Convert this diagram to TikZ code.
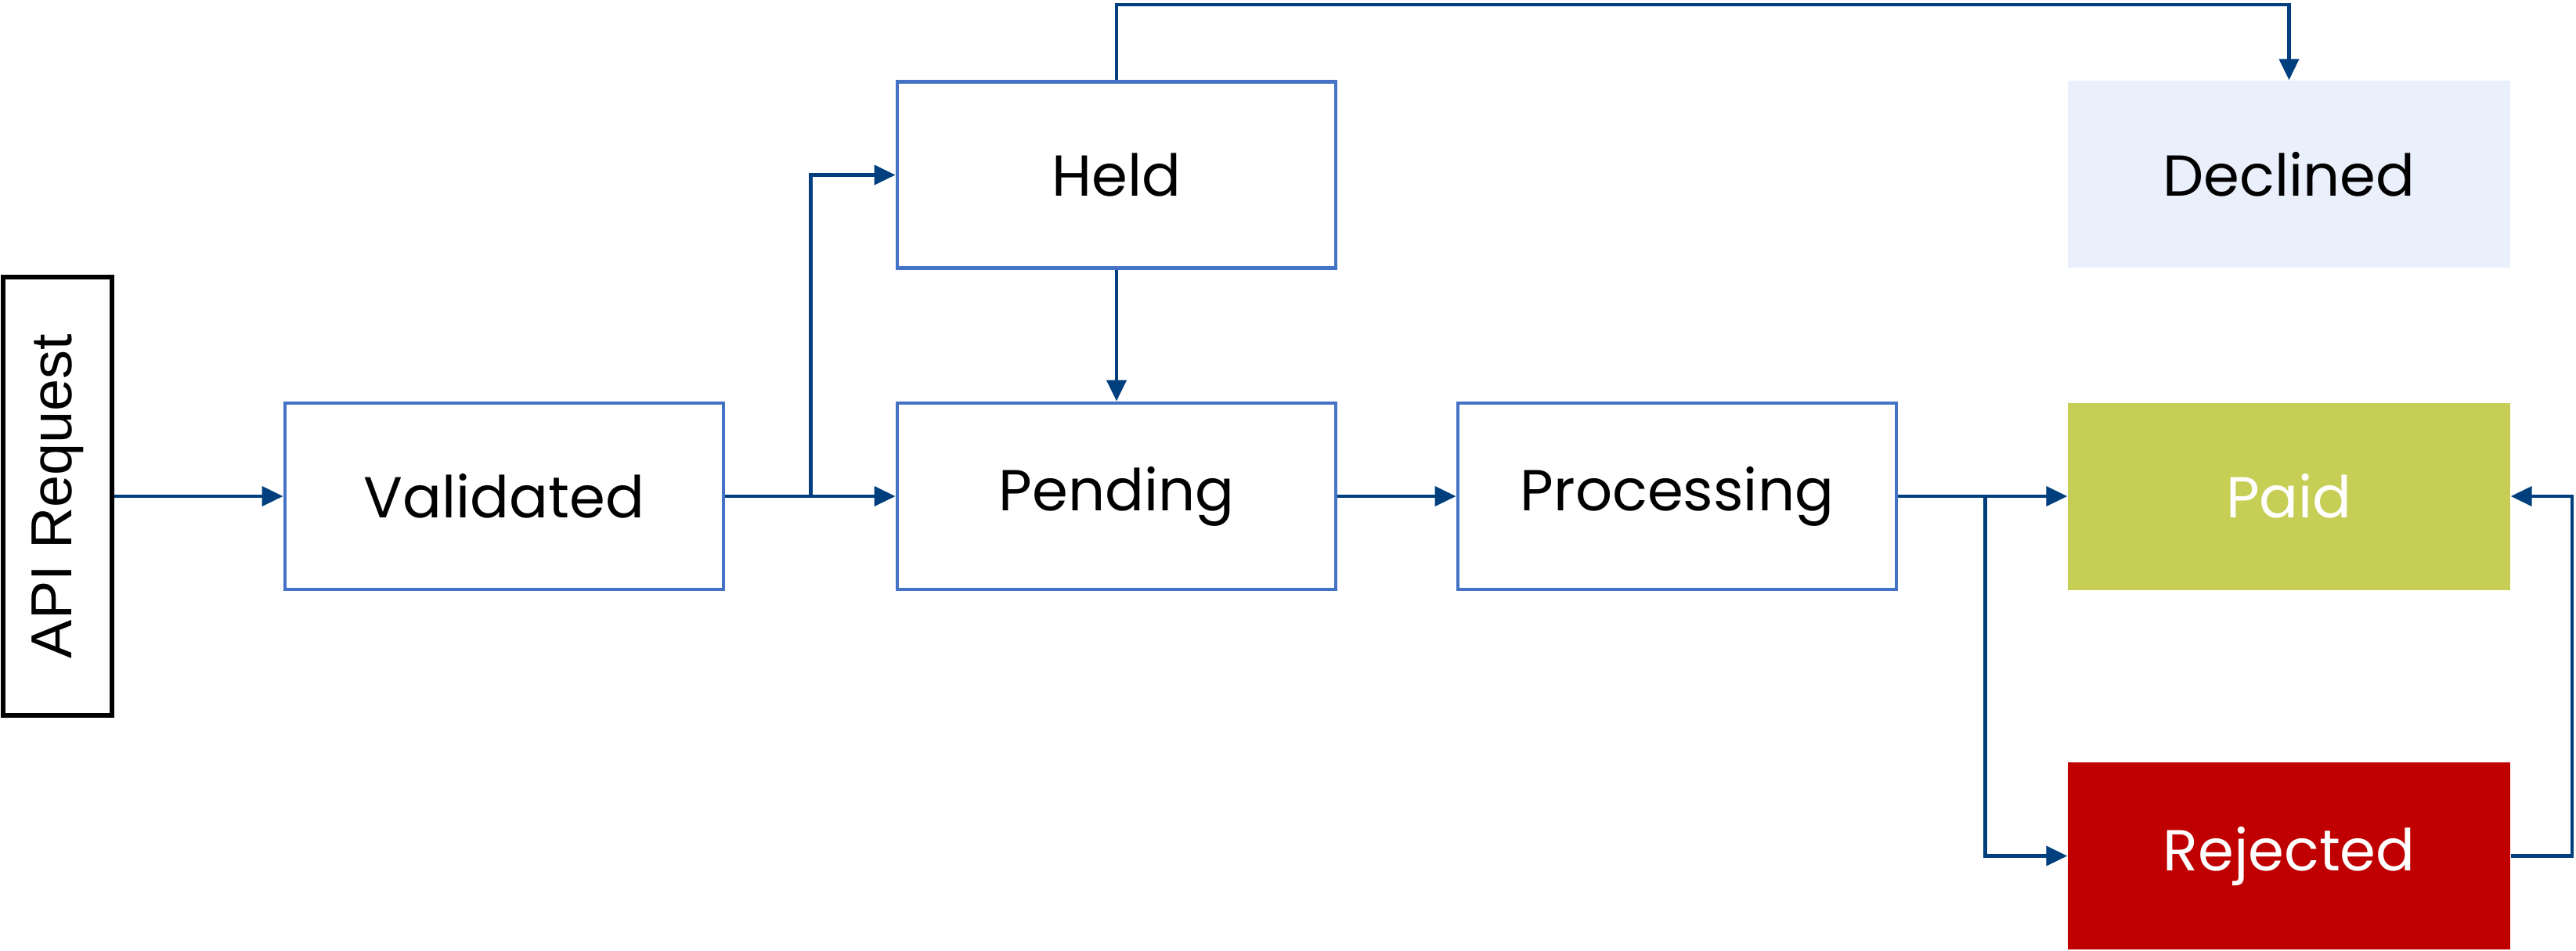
\documentclass[tikz,border=0pt]{standalone}
\usepackage{fontspec}
\setmainfont{Poppins}
\newfontfamily\apifont{Liberation Sans}
\usetikzlibrary{arrows.meta}
\definecolor{lineblue}{RGB}{0,63,125}
\definecolor{boxblue}{RGB}{68,114,196}
\definecolor{declfill}{RGB}{233,240,252}
\definecolor{paidfill}{RGB}{199,206,85}
\definecolor{rejfill}{RGB}{192,0,0}
\tikzset{
  state/.style={draw=boxblue, line width=1.4pt, fill=white, minimum width=5.6cm, minimum height=2.38cm, inner sep=0pt, font=\fontsize{21}{25}\selectfont},
  final/.style={draw=none, minimum width=5.65cm, minimum height=2.39cm, inner sep=0pt, font=\fontsize{21}{25}\selectfont},
  conn/.style={draw=lineblue, line width=1.2pt, -{Triangle[length=0.27cm, width=0.25cm]}},
}
\begin{document}
\begin{tikzpicture}
\useasboundingbox (0,0) rectangle (32.9,-12.14);
\node[draw=black, line width=1.6pt, minimum width=1.39cm, minimum height=5.6cm, inner sep=0pt, font=\apifont\fontsize{21}{25}\selectfont] (api) at (0.735,-6.34) {\rotatebox{90}{API Request}};
\node[state] (val) at (6.44,-6.34) {Validated};
\node[state] (held) at (14.26,-2.235) {Held};
\node[state] (pend) at (14.26,-6.34) {Pending};
\node[state] (proc) at (21.42,-6.34) {Processing};
\node[final, fill=declfill] (decl) at (29.235,-2.225) {Declined};
\node[final, fill=paidfill, text=white] (paid) at (29.235,-6.34) {Paid};
\node[final, fill=rejfill, text=white] (rej) at (29.235,-10.935) {Rejected};
\coordinate (topline) at (0,-0.06);
\draw[conn] (api.east) -- (val.west);
\draw[conn] (val.east) -- (pend.west);
\draw[conn] (val.east) -- ++(1.09,0) |- (held.west);
\draw[conn] (held.south) -- (pend.north);
\draw[conn] (held.north) -- (held.north |- topline) -| (decl.north);
\draw[conn] (pend.east) -- (proc.west);
\draw[conn] (proc.east) -- (paid.west);
\draw[conn] (proc.east) -- ++(1.11,0) |- (rej.west);
\draw[conn] (rej.east) -- ++(0.78,0) |- (paid.east);
\end{tikzpicture}
\end{document}
